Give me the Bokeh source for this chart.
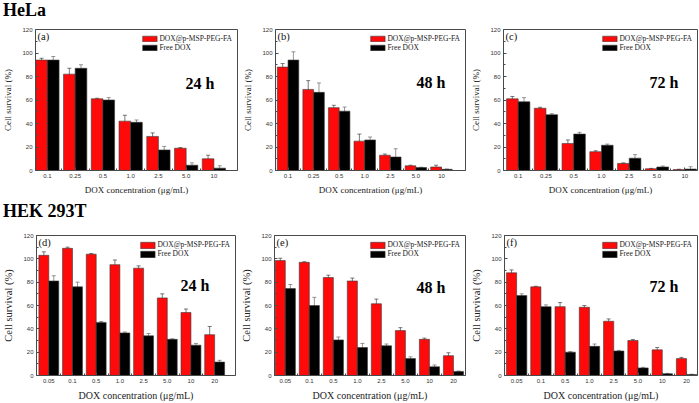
from bokeh.plotting import figure
from bokeh.models import ColumnDataSource, Range1d, FixedTicker, Whisker, TeeHead, Label, Div
from bokeh.layouts import column, row
from bokeh.transform import dodge
from bokeh.embed import file_html
from bokeh.resources import INLINE

# ---------------- data ----------------
hela_conc = ["0.1", "0.25", "0.5", "1.0", "2.5", "5.0", "10"]
hek_conc = ["0.05", "0.1", "0.5", "1.0", "2.5", "5.0", "10", "20"]
series_names = ["DOX@p-MSP-PEG-FA", "Free DOX"]
y_ticks = [0, 20, 40, 60, 80, 100, 120]

hela_24_np = [94, 82, 61, 42, 29, 19, 10]
hela_24_np_err = [1.5, 5, 0.5, 5, 3, 0.5, 3]
hela_24_free = [94, 87, 60, 41, 17.5, 4.5, 2]
hela_24_free_err = [3, 3, 2, 2, 3, 2, 2]

hela_48_np = [88, 69, 53.5, 25, 13, 4, 3]
hela_48_np_err = [3, 7.5, 2, 6, 1, 0.5, 1.5]
hela_48_free = [94, 66.5, 50.5, 26, 11.5, 2.5, 1]
hela_48_free_err = [7, 8, 3.5, 2.5, 7, 0.3, 0.3]

hela_72_np = [61, 53, 23, 16, 6, 1.5, 0.8]
hela_72_np_err = [2, 0.8, 3, 0.8, 0.5, 0.3, 0.3]
hela_72_free = [58.5, 47.5, 31, 21.5, 10.5, 3, 1.2]
hela_72_free_err = [3.5, 0.8, 1.5, 1, 3, 0.8, 2]

hek_24_np = [103, 109, 104, 95, 92, 66.5, 54, 35]
hek_24_np_err = [3, 1, 0.5, 4, 2, 3.5, 3, 7]
hek_24_free = [81, 76, 45.5, 36.5, 34, 31, 26, 11.5]
hek_24_free_err = [4.5, 4, 0.8, 0.8, 2, 0.5, 1.5, 1.5]

hek_48_np = [98.5, 97, 84, 81, 61.5, 38.5, 31, 17]
hek_48_np_err = [2, 0.5, 2, 2.5, 4, 2.5, 1, 2.5]
hek_48_free = [74.5, 60, 30.5, 24, 25.5, 14.5, 7.5, 3.5]
hek_48_free_err = [3.5, 7, 2.5, 3.5, 1.5, 1.5, 1.5, 0.3]

hek_72_np = [88, 76, 59, 58.5, 46.5, 30, 22, 14.5]
hek_72_np_err = [2.5, 0.5, 3.5, 1.5, 2, 0.8, 2, 1]
hek_72_free = [68.5, 59, 20, 25, 21, 6.5, 1.5, 0.8]
hek_72_free_err = [1.5, 1.5, 0.5, 2, 0.5, 0.5, 0.3, 0.3]

# ---------------- style ----------------
SERIF = "Liberation Serif"
SANS = "Liberation Sans"
RED = "#ff0a0a"
BLACK = "#000000"
EDGE = "#3a3a3a"
AXC = "#4a4a4a"
BW = 0.42


def panel(cats, np_vals, np_err, fr_vals, fr_err, tag, hours,
          x_start, x_end, width, height, b_left, b_right, b_top, b_bottom,
          lab_size, ylab_size, glyph_h, hours_y, hours_dx):
    idx = list(range(len(cats)))
    src = ColumnDataSource(dict(
        x=idx, np=np_vals, fr=fr_vals,
        np_up=[v + e for v, e in zip(np_vals, np_err)],
        np_lo=[v - e for v, e in zip(np_vals, np_err)],
        fr_up=[v + e for v, e in zip(fr_vals, fr_err)],
        fr_lo=[v - e for v, e in zip(fr_vals, fr_err)],
    ))
    p = figure(width=width, height=height, x_range=Range1d(x_start, x_end),
               y_range=Range1d(0, 120), output_backend="svg", toolbar_location=None,
               min_border_left=b_left, min_border_right=b_right, min_border_top=b_top,
               min_border_bottom=b_bottom, margin=(0, 0, 0, 0))
    p.background_fill_color = "white"
    p.border_fill_color = "white"
    p.xgrid.visible = False
    p.ygrid.visible = False
    p.outline_line_color = AXC
    p.outline_line_width = 1
    p.outline_line_alpha = 1

    p.vbar(x=dodge("x", -BW / 2), top="np", width=BW, source=src, fill_color=RED,
           line_color=EDGE, line_width=0.6, legend_label=series_names[0])
    p.vbar(x=dodge("x", BW / 2), top="fr", width=BW, source=src, fill_color=BLACK,
           line_color=EDGE, line_width=0.6, legend_label=series_names[1])

    for base, up, lo, col in ((dodge("x", -BW / 2), "np_up", "np_lo", "#404040"),
                              (dodge("x", BW / 2), "fr_up", "fr_lo", "#6a6a6a")):
        w = Whisker(base=base, upper=up, lower=lo, source=src, line_color=col,
                    line_width=0.7,
                    upper_head=TeeHead(size=4, line_color=col, line_width=0.7),
                    lower_head=TeeHead(size=4, line_color=col, line_width=0.7))
        p.add_layout(w)

    # axes
    xa = p.xaxis[0]
    xa.ticker = FixedTicker(ticks=idx, minor_ticks=[i + 0.5 for i in idx[:-1]])
    xa.major_label_overrides = {i: c for i, c in enumerate(cats)}
    ya = p.yaxis[0]
    ya.ticker = FixedTicker(ticks=y_ticks, minor_ticks=[10, 30, 50, 70, 90, 110])
    for ax in (xa, ya):
        ax.axis_line_color = AXC
        ax.major_tick_line_color = AXC
        ax.minor_tick_line_color = AXC
        ax.major_tick_in = 3
        ax.major_tick_out = 0
        ax.minor_tick_in = 2
        ax.minor_tick_out = 0
        ax.major_label_text_font = SANS
        ax.major_label_text_font_size = "6px"
        ax.major_label_text_color = "#333333"
        ax.major_label_standoff = 3
        ax.axis_label_text_font = SERIF
        ax.axis_label_text_font_style = "normal"
        ax.axis_label_text_color = "#222222"
    xa.axis_label = "DOX concentration (\u03bcg/mL)"
    xa.axis_label_text_font_size = lab_size
    xa.axis_label_standoff = 4
    ya.axis_label = "Cell survival (%)"
    ya.axis_label_text_font_size = ylab_size
    ya.axis_label_standoff = 6

    # legend
    lg = p.legend[0]
    lg.location = "top_right"
    lg.border_line_alpha = 0
    lg.background_fill_alpha = 0
    lg.margin = 5
    lg.padding = 0
    lg.spacing = 0
    lg.glyph_width = 18
    lg.glyph_height = glyph_h
    lg.label_height = glyph_h
    lg.label_standoff = 1
    lg.label_text_font = SERIF
    lg.label_text_font_size = "7.5px"
    lg.label_text_line_height = 1.0
    lg.label_text_color = "#222222"

    p.add_layout(Label(x=x_start, y=118.6, x_offset=2, text=tag, text_font=SERIF,
                       text_font_size="10.5px", text_baseline="top", text_align="left",
                       text_color="#111111"))
    p.add_layout(Label(x=x_end, y=hours_y, x_offset=-hours_dx, text=hours, text_font=SERIF,
                       text_font_size="16px", text_font_style="bold", text_baseline="alphabetic",
                       text_align="right", text_color="#000000"))
    return p


RH, RT, RB = 173, 5, 26

pa = panel(hela_conc, hela_24_np, hela_24_np_err, hela_24_free, hela_24_free_err, "(a)", "24 h",
           -0.43, 6.85, 240, RH, 32, 3, RT, RB, "9px", "9px", 7, 74.4, 23)
pb = panel(hela_conc, hela_48_np, hela_48_np_err, hela_48_free, hela_48_free_err, "(b)", "48 h",
           -0.49, 6.94, 228, RH, 28, 3, RT, RB, "9px", "9px", 7, 74.5, 20)
pc = panel(hela_conc, hela_72_np, hela_72_np_err, hela_72_free, hela_72_free_err, "(c)", "72 h",
           -0.53, 6.46, 231, RH, 32, 2, RT, RB, "9px", "9px", 7, 74.5, 19)

pd = panel(hek_conc, hek_24_np, hek_24_np_err, hek_24_free, hek_24_free_err, "(d)", "24 h",
           -0.52, 7.88, 238, RH, 30, 3, RT, RB, "10px", "10.5px", 8, 76.9, 26)
pe = panel(hek_conc, hek_48_np, hek_48_np_err, hek_48_free, hek_48_free_err, "(e)", "48 h",
           -0.45, 7.5, 230, RH, 32, 3, RT, RB, "10px", "10.5px", 8, 75.7, 20)
pf = panel(hek_conc, hek_72_np, hek_72_np_err, hek_72_free, hek_72_free_err, "(f)", "72 h",
           -0.5, 7.45, 231, RH, 32, 2, RT, RB, "10px", "10.5px", 8, 76.0, 19)

t1 = Div(text="<div style=\"font-family:'Liberation Serif';font-weight:bold;font-size:18px;"
              "line-height:18px;height:24px;padding-top:1px;padding-left:3px;box-sizing:border-box;"
              "color:#000\">HeLa</div>",
         width=699, height=24, margin=(0, 0, 0, 0))
t2 = Div(text="<div style=\"font-family:'Liberation Serif';font-weight:bold;font-size:18px;"
              "line-height:18px;height:33px;padding-top:5px;padding-left:3px;box-sizing:border-box;"
              "color:#000\">HEK 293T</div>",
         width=699, height=33, margin=(0, 0, 0, 0))

layout = column(t1, row(pa, pb, pc, spacing=0), t2, row(pd, pe, pf, spacing=0),
                spacing=0, margin=(0, 0, 0, 0))

open("out.html", "w").write(file_html(layout, INLINE))
